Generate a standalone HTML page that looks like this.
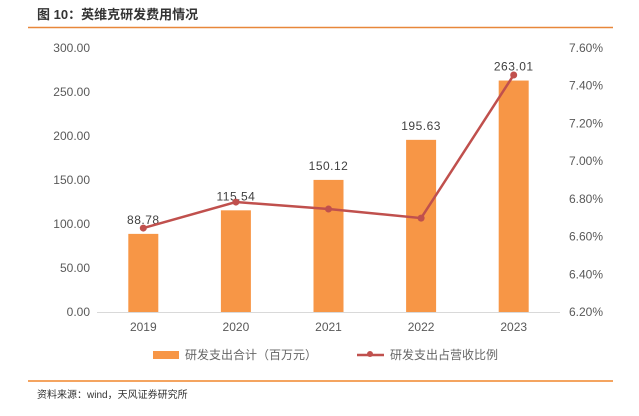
<!DOCTYPE html>
<html><head><meta charset="utf-8"><style>
body{margin:0;background:#fff;width:639px;height:411px;overflow:hidden;font-family:"Liberation Sans","Noto Sans CJK SC",sans-serif}
svg text{font-family:"Liberation Sans","Noto Sans CJK SC",sans-serif}
</style></head><body>
<svg id="c" width="639" height="411">
<text x="37" y="19" font-size="13" font-weight="bold" fill="#333">图 10：英维克研发费用情况</text>
<line x1="28" y1="27.5" x2="613" y2="27.5" stroke="#e8873a" stroke-width="1.5"/>
<line x1="28" y1="381" x2="613" y2="381" stroke="#f4a460" stroke-width="2"/>
<text x="37" y="398" font-size="10" fill="#333">资料来源：wind，天风证券研究所</text>
<g id="plot"></g>
<g>
<rect x="153" y="351" width="26" height="8" fill="#f79646"/>
<text x="185" y="359" font-size="12" fill="#666">研发支出合计（百万元）</text>
<line x1="357" y1="355" x2="384" y2="355" stroke="#c0504d" stroke-width="2.5"/>
<circle cx="370" cy="354" r="3" fill="#c0504d"/>
<text x="390" y="359" font-size="12" fill="#666">研发支出占营收比例</text>
</g>
</svg>
<script>
const categories=["2019","2020","2021","2022","2023"];
const rdSpend=[88.78,115.54,150.12,195.63,263.01];
const rdRatio=[6.645,6.783,6.746,6.698,7.457];
const leftTicks=[0,50,100,150,200,250,300];
const rightTicks=[6.2,6.4,6.6,6.8,7.0,7.2,7.4,7.6];
const ns="http://www.w3.org/2000/svg";
const g=document.getElementById("plot");
const plotTop=48,plotBot=312,x0=97,x1=560;
const yL=v=>plotBot-(v/300)*(plotBot-plotTop);
const yR=v=>plotBot-((v-6.2)/1.4)*(plotBot-plotTop);
const xC=i=>x0+(x1-x0)/categories.length*(i+0.5);
function mk(t,a){const e=document.createElementNS(ns,t);for(const k in a)e.setAttribute(k,a[k]);g.appendChild(e);return e;}
leftTicks.forEach(v=>{const t=mk("text",{x:90,y:yL(v)+4,"font-size":12,fill:"#595959","text-anchor":"end"});t.textContent=v.toFixed(2);

});
rightTicks.forEach(v=>{const t=mk("text",{x:569,y:yR(v)+4,"font-size":12,fill:"#595959"});t.textContent=v.toFixed(2)+"%";

});
const ax=mk("line",{x1:x0,y1:plotBot+.5,x2:x1,y2:plotBot+.5,stroke:"#d9d9d9"});


categories.forEach((c,i)=>{
const r=mk("rect",{x:xC(i)-15,y:yL(rdSpend[i]),width:30,height:plotBot-yL(rdSpend[i]),fill:"#f79646"});


const l=mk("text",{x:xC(i),y:yL(rdSpend[i])-10,"font-size":12,fill:"#404040","text-anchor":"middle","letter-spacing":"0.5"});l.textContent=rdSpend[i].toFixed(2);


const t=mk("text",{x:xC(i),y:plotBot+19,"font-size":12,fill:"#595959","text-anchor":"middle"});t.textContent=c;


});
const pl=mk("polyline",{points:rdRatio.map((v,i)=>xC(i)+","+yR(v)).join(" "),fill:"none",stroke:"#c0504d","stroke-width":2.5});


rdRatio.forEach((v,i)=>{const c=mk("circle",{cx:xC(i),cy:yR(v),r:3.5,fill:"#c0504d"});

});
</script>
</body></html>
